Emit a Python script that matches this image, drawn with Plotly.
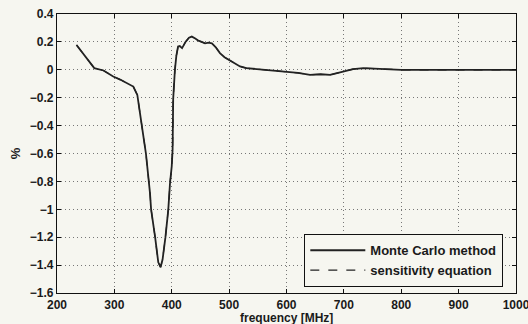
import plotly.graph_objects as go

freq_mhz = [234, 243, 257, 265, 281, 298, 310, 327, 333, 340, 345, 355, 362, 364,
            371, 376.5, 380.5, 384, 389, 394, 397, 400, 401.5, 402.5, 405.5, 408,
            411, 414, 418, 424, 430, 435, 441, 446, 452, 458, 464, 470, 477, 484,
            492, 501, 510, 519, 530, 548, 565, 583, 600, 620, 641, 660, 676, 686,
            696, 716, 734, 760, 800, 850, 900, 950, 1000]
monte_carlo = [0.178, 0.13, 0.048, 0.012, -0.005, -0.048, -0.07, -0.107, -0.12, -0.18,
               -0.31, -0.6, -0.88, -1.0, -1.2, -1.38, -1.415, -1.36, -1.2, -1.0,
               -0.81, -0.69, -0.57, -0.21, 0.0, 0.1, 0.167, 0.17, 0.155, 0.2, 0.23,
               0.238, 0.225, 0.21, 0.2, 0.19, 0.195, 0.19, 0.16, 0.12, 0.09, 0.07,
               0.045, 0.024, 0.012, 0.005, 0.0, -0.006, -0.012, -0.022, -0.036,
               -0.032, -0.036, -0.025, -0.012, 0.005, 0.012, 0.008, 0.0, 0.0,
               -0.002, 0.0, 0.0]
sensitivity = list(monte_carlo)

x_ticks = [200, 300, 400, 500, 600, 700, 800, 900, 1000]
y_ticks = [0.4, 0.2, 0, -0.2, -0.4, -0.6, -0.8, -1, -1.2, -1.4, -1.6]
y_labels = ["0.4", "0.2", "0", "\u22120.2", "\u22120.4", "\u22120.6", "\u22120.8",
            "\u22121", "\u22121.2", "\u22121.4", "\u22121.6"]

FONT = dict(family="Liberation Sans", size=13, color="#1a1a1a", weight="bold")
TICKFONT = dict(family="Liberation Sans", size=12, color="#1a1a1a", weight="bold")
TITLEFONT = dict(family="Liberation Sans", size=12, color="#1a1a1a", weight="bold")
BG = "#f6f6f0"

fig = go.Figure()
fig.add_trace(go.Scatter(x=freq_mhz, y=monte_carlo, mode="lines", name="Monte Carlo method",
                         line=dict(color="#222222", width=1.8)))
fig.add_trace(go.Scatter(x=freq_mhz, y=sensitivity, mode="lines", name="sensitivity equation",
                         line=dict(color="#222222", width=1.2, dash="dash")))

axis_common = dict(showline=True, linecolor="#111", linewidth=1.3, mirror="ticks",
                   ticks="inside", ticklen=4, tickcolor="#111", tickwidth=1.3,
                   showgrid=True, gridcolor="#777777", griddash="1px,3px", gridwidth=1,
                   zeroline=False, automargin=False, ticklabeloverflow="allow",
                   tickfont=TICKFONT)

fig.update_xaxes(range=[200, 1000], tickvals=x_ticks, ticktext=[str(v) for v in x_ticks],
                 **axis_common)
fig.update_yaxes(range=[-1.6, 0.4], tickvals=y_ticks, ticktext=y_labels,
                 title=dict(text="%", standoff=6, font=FONT),
                 **axis_common)

fig.add_annotation(text="frequency [MHz]", xref="paper", yref="paper", x=0.5, y=0,
                   xanchor="center", yanchor="top", yshift=-17, showarrow=False,
                   font=TITLEFONT, borderpad=0)

fig.update_layout(
    width=528, height=324,
    margin=dict(l=57, r=12, t=14, b=31, autoexpand=False),
    paper_bgcolor=BG, plot_bgcolor=BG,
    font=FONT,
    legend=dict(x=0.9717, y=0.0215, xanchor="right", yanchor="bottom",
                bgcolor=BG, bordercolor="#111", borderwidth=1.3,
                font=FONT, tracegroupgap=0, itemwidth=55),
    showlegend=True,
)

fig.write_html("out.html")
